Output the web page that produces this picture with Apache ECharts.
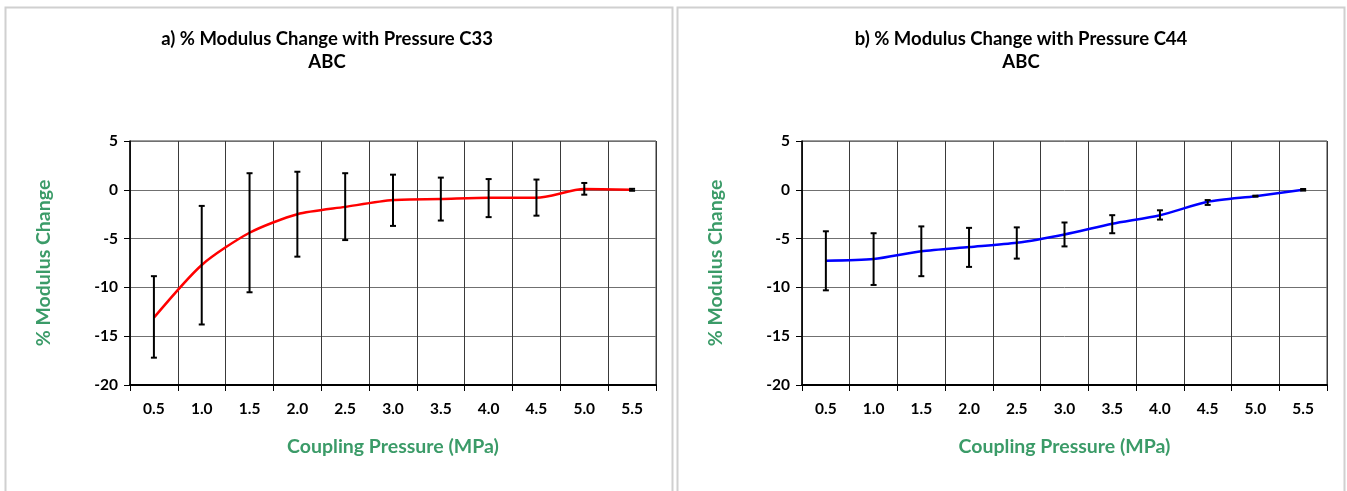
<!DOCTYPE html>
<html>
<head>
<meta charset="utf-8">
<script src="https://cdn.jsdelivr.net/npm/echarts@6/dist/echarts.min.js"></script>
<style>
html,body{margin:0;padding:0;background:#fff;}
#chart{width:1347px;height:491px;}
</style>
</head>
<body>
<div id="chart"></div>
<script>
const categories = ['0.5','1.0','1.5','2.0','2.5','3.0','3.5','4.0','4.5','5.0','5.5'];
const c33Mean = [-13.1, -7.7, -4.4, -2.5, -1.75, -1.05, -0.95, -0.82, -0.82, 0.07, 0];
const c33Low  = [-17.2, -13.8, -10.5, -6.85, -5.15, -3.7, -3.15, -2.8, -2.65, -0.5, -0.1];
const c33High = [-8.85, -1.65, 1.7, 1.85, 1.7, 1.55, 1.25, 1.1, 1.05, 0.7, 0.1];
const c44Mean = [-7.27, -7.1, -6.3, -5.87, -5.43, -4.57, -3.48, -2.6, -1.23, -0.65, 0];
const c44Low  = [-10.3, -9.75, -8.85, -7.9, -7.05, -5.8, -4.45, -3.05, -1.55, -0.7, -0.08];
const c44High = [-4.25, -4.45, -3.75, -3.9, -3.85, -3.35, -2.6, -2.1, -1.05, -0.6, 0.08];
const yTicks = { min: -20, max: 5, interval: 5 };
const titles = ['a) % Modulus Change with Pressure C33\nABC', 'b) % Modulus Change with Pressure C44\nABC'];
const xName = 'Coupling Pressure (MPa)';
const yName = '% Modulus Change';

const FONT = 'Lato, "Open Sans", sans-serif';
const GREEN = '#3b9b68';

function errData(lo, hi) {
  return lo.map((v, i) => [i, v, hi[i]]);
}
function renderErr(params, api) {
  const idx = api.value(0);
  const p1 = api.coord([idx, api.value(1)]);
  const p2 = api.coord([idx, api.value(2)]);
  const cap = 3;
  const st = { stroke: '#000', lineWidth: 2 };
  return {
    type: 'group',
    children: [
      { type: 'line', shape: { x1: p1[0], y1: p1[1], x2: p2[0], y2: p2[1] }, style: st },
      { type: 'line', shape: { x1: p1[0] - cap, y1: p1[1], x2: p1[0] + cap, y2: p1[1] }, style: st },
      { type: 'line', shape: { x1: p2[0] - cap, y1: p2[1], x2: p2[0] + cap, y2: p2[1] }, style: st }
    ]
  };
}

const grids = [
  { left: 130, top: 141, width: 526, height: 244 },
  { left: 802, top: 141, width: 525, height: 244 }
];

function xAxisCfg(gi) {
  return {
    type: 'category', gridIndex: gi, data: categories, boundaryGap: true,
    position: 'bottom',
    axisLine: { show: true, onZero: false, lineStyle: { color: '#000', width: 2 } },
    axisTick: { show: true, length: 6, lineStyle: { color: '#000', width: 1 } },
    axisLabel: { color: '#000', fontFamily: FONT, fontWeight: 'bold', fontSize: 15.5, margin: 16 },
    splitLine: { show: true, lineStyle: { color: '#3a3a3a', width: 1 } },
    name: xName, nameLocation: 'middle', nameGap: 52,
    nameTextStyle: { color: GREEN, fontFamily: FONT, fontWeight: 'bold', fontSize: 19.5 }
  };
}
function yAxisCfg(gi) {
  return {
    type: 'value', gridIndex: gi, min: yTicks.min, max: yTicks.max, interval: yTicks.interval,
    axisLine: { show: true, onZero: false, lineStyle: { color: '#000', width: 1.5 } },
    axisTick: { show: true, length: 6, lineStyle: { color: '#000', width: 1 } },
    axisLabel: { color: '#000', fontFamily: FONT, fontWeight: 'bold', fontSize: 15.5, margin: 12 },
    splitLine: { show: true, lineStyle: { color: '#707070', width: 1 } },
    name: yName, nameLocation: 'middle', nameGap: 76, nameRotate: 90,
    nameTextStyle: { color: GREEN, fontFamily: FONT, fontWeight: 'bold', fontSize: 19.5 }
  };
}

const chart = echarts.init(document.getElementById('chart'), null, { renderer: 'canvas' });
chart.setOption({
  backgroundColor: '#fff',
  animation: false,
  graphic: [
    { type: 'rect', shape: { x: 5.5, y: 7.5, width: 667, height: 500 }, style: { fill: 'none', stroke: '#d0d0d0', lineWidth: 2 }, z: -1 },
    { type: 'rect', shape: { x: 677.5, y: 7.5, width: 667, height: 500 }, style: { fill: 'none', stroke: '#d0d0d0', lineWidth: 2 }, z: -1 }
  ],
  title: [
    { text: titles[0], left: 322, top: 23, textAlign: 'center',
      textStyle: { fontFamily: FONT, fontWeight: 'bold', fontSize: 18.5, color: '#000', lineHeight: 23 } },
    { text: titles[1], left: 1016, top: 23, textAlign: 'center',
      textStyle: { fontFamily: FONT, fontWeight: 'bold', fontSize: 18.5, color: '#000', lineHeight: 23 } }
  ],
  grid: grids.map(g => Object.assign({ show: true, borderColor: '#3a3a3a', borderWidth: 1, containLabel: false }, g)),
  xAxis: [xAxisCfg(0), xAxisCfg(1)],
  yAxis: [yAxisCfg(0), yAxisCfg(1)],
  series: [
    { type: 'line', xAxisIndex: 0, yAxisIndex: 0, data: c33Mean, smooth: 0.25, showSymbol: false,
      lineStyle: { color: '#ff0000', width: 2.5 }, z: 3 },
    { type: 'custom', xAxisIndex: 0, yAxisIndex: 0, data: errData(c33Low, c33High), renderItem: renderErr, z: 4 },
    { type: 'line', xAxisIndex: 1, yAxisIndex: 1, data: c44Mean, smooth: 0.25, showSymbol: false,
      lineStyle: { color: '#0000ff', width: 2.5 }, z: 3 },
    { type: 'custom', xAxisIndex: 1, yAxisIndex: 1, data: errData(c44Low, c44High), renderItem: renderErr, z: 4 }
  ]
});
</script>
</body>
</html>
